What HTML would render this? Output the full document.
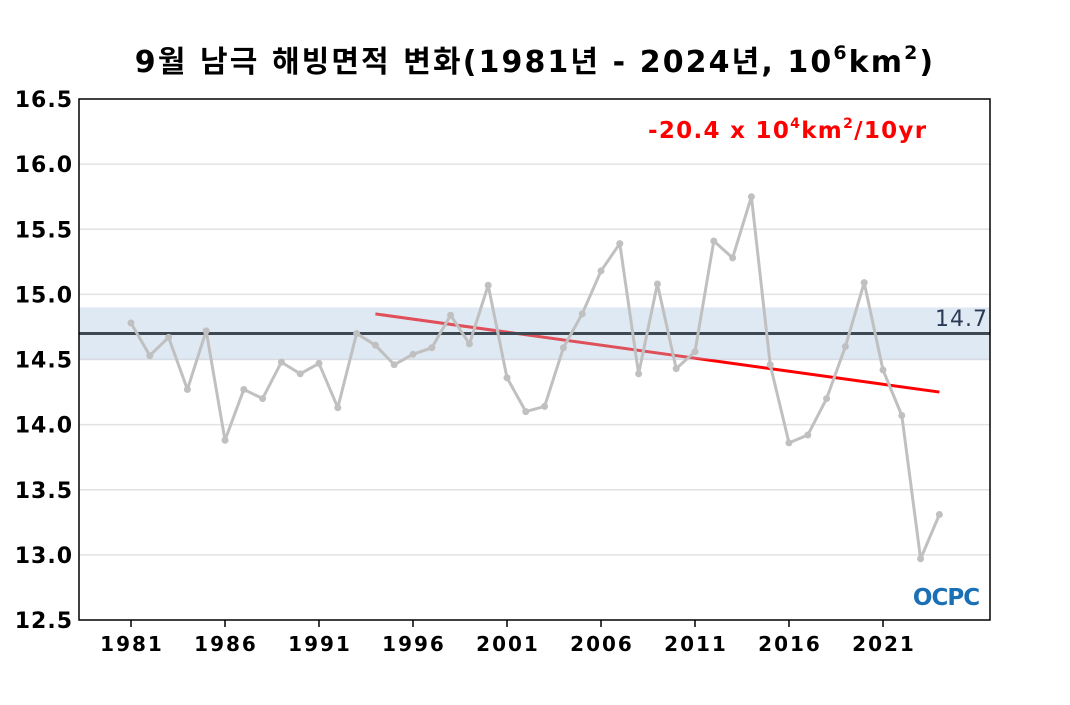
<!DOCTYPE html>
<html><head><meta charset="utf-8">
<style>
body{margin:0;background:#fff;}
svg text{font-family:"DejaVu Sans","Noto Sans CJK KR",sans-serif;}
</style></head>
<body>
<svg id="chart" width="1070" height="700" xmlns="http://www.w3.org/2000/svg">
<text x="535" y="72" text-anchor="middle" font-size="30" font-weight="bold" letter-spacing="2.1" fill="#000">9월 남극 해빙면적 변화(1981년 - 2024년, 10<tspan font-size="19" dy="-13">6</tspan><tspan dy="13">km</tspan><tspan font-size="19" dy="-13">2</tspan><tspan dy="13">)</tspan></text>
<g id="grid"></g>
<g id="trend"></g>
<rect id="band" fill="rgba(175,200,225,0.4)"></rect>
<line id="mean" stroke="#3d4853" stroke-width="3"></line>
<text x="988" y="326" text-anchor="end" font-size="22" letter-spacing="1" fill="#2b3a55">14.7</text>
<g id="series"></g>
<text x="648" y="138" font-size="23" font-weight="bold" letter-spacing="1.3" fill="#ff0000">-20.4 x 10<tspan font-size="14" dy="-10">4</tspan><tspan dy="10">km</tspan><tspan font-size="14" dy="-10">2</tspan><tspan dy="10">/10yr</tspan></text>
<text x="946" y="605" text-anchor="middle" font-size="23" font-weight="bold" fill="#1a6fb5" letter-spacing="-1">OCPC</text>
<rect x="79" y="99" width="911" height="521" fill="none" stroke="#000" stroke-width="1.5"></rect>
<g id="axes"></g>
</svg>
<script>
const years=[1981,1982,1983,1984,1985,1986,1987,1988,1989,1990,1991,1992,1993,1994,1995,1996,1997,1998,1999,2000,2001,2002,2003,2004,2005,2006,2007,2008,2009,2010,2011,2012,2013,2014,2015,2016,2017,2018,2019,2020,2021,2022,2023,2024];
const extent=[14.78,14.53,14.67,14.27,14.72,13.88,14.27,14.20,14.48,14.39,14.47,14.13,14.70,14.61,14.46,14.54,14.59,14.84,14.62,15.07,14.36,14.10,14.14,14.59,14.85,15.18,15.39,14.39,15.08,14.43,14.56,15.41,15.28,15.75,14.46,13.86,13.92,14.20,14.60,15.09,14.42,14.07,12.97,13.31];
const yTicks=[12.5,13.0,13.5,14.0,14.5,15.0,15.5,16.0,16.5];
const xTicks=[1981,1986,1991,1996,2001,2006,2011,2016,2021];
const meanValue=[14.7];
const bandRange=[14.5,14.9];
const trendYears=[1994,2024];
const trendValues=[14.85,14.25];

const NS="http://www.w3.org/2000/svg";
const X0=79,X1=990,Y0=99,Y1=620;
const xs=y=>131+(y-1981)*18.8;
const ys=v=>Y1-(v-12.5)/(16.5-12.5)*(Y1-Y0);
function mk(tag,attrs,parent){const e=document.createElementNS(NS,tag);for(const k in attrs)e.setAttribute(k,attrs[k]);parent.appendChild(e);return e;}
const grid=document.getElementById('grid'),axes=document.getElementById('axes');
yTicks.forEach(t=>{
  if(t>12.5&&t<16.5){const l=mk('line',{x1:X0,x2:X1,y1:ys(t),y2:ys(t),stroke:'#e2e2e2','stroke-width':1.5},grid);
  
  }
  const tx=mk('text',{x:73,y:ys(t)+8,'text-anchor':'end','font-size':22,'font-weight':'bold','letter-spacing':1,fill:'#000'},axes);
  tx.textContent=t.toFixed(1);
  
  
});
xTicks.forEach(t=>{
  const l=mk('line',{x1:xs(t),x2:xs(t),y1:Y1,y2:Y1+7,stroke:'#000','stroke-width':1.5},axes);
  
  
  const tx=mk('text',{x:xs(t)+1,y:Y1+31,'text-anchor':'middle','font-size':20,'font-weight':'bold','letter-spacing':2,fill:'#000'},axes);
  tx.textContent=t;
  
  
});
const tr=mk('line',{x1:xs(trendYears[0]),y1:ys(trendValues[0]),x2:xs(trendYears[1]),y2:ys(trendValues[1]),stroke:'#ff0000','stroke-width':3},document.getElementById('trend'));


const band=document.getElementById('band');
band.setAttribute('x',X0);band.setAttribute('width',X1-X0);
band.setAttribute('y',ys(bandRange[1]));band.setAttribute('height',ys(bandRange[0])-ys(bandRange[1]));
const mean=document.getElementById('mean');
mean.setAttribute('x1',X0);mean.setAttribute('x2',X1);mean.setAttribute('y1',ys(meanValue[0]));mean.setAttribute('y2',ys(meanValue[0]));
const ser=document.getElementById('series');
const pl=mk('polyline',{points:years.map((y,i)=>xs(y)+','+ys(extent[i])).join(' '),fill:'none',stroke:'#c0c0c0','stroke-width':3,'stroke-linejoin':'round'},ser);


years.forEach((y,i)=>{
  const c=mk('circle',{cx:xs(y),cy:ys(extent[i]),r:3.5,fill:'#c0c0c0'},ser);
  
  
});
</script>
</body></html>
